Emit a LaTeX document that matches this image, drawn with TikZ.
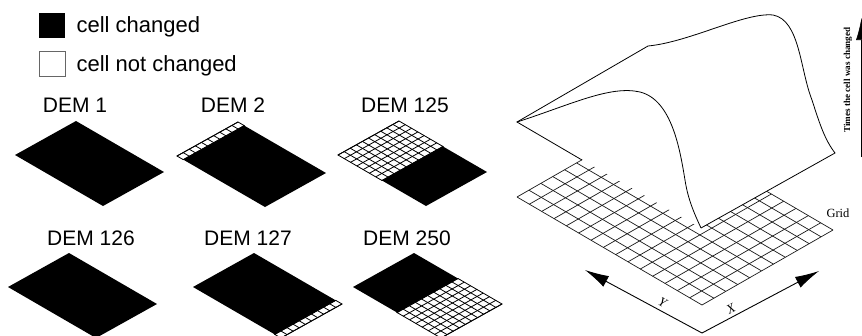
\documentclass[tikz,border=0pt]{standalone}
\usepackage{fontspec}
\setmainfont{Liberation Serif}
\setsansfont{Liberation Sans}
\usetikzlibrary{arrows.meta}

\tikzset{
  demlabel/.style={font=\sffamily\fontsize{21}{21}\selectfont, anchor=base},
  legendtext/.style={font=\sffamily\fontsize{22}{22}\selectfont, anchor=base west},
  keybox/.style={minimum width=26pt, minimum height=25pt, inner sep=0pt},
  cellline/.style={line width=0.8pt},
  gridline/.style={line width=0.7pt, black!90},
  surfline/.style={line width=0.8pt},
  axisarrow/.style={line width=0.9pt, -{Latex[length=24pt,width=12pt]}},
}

% one DEM tile: origin (left corner), first and last white row
\newcommand{\demtile}[3]{%
  \begin{scope}[shift={#1}, x={(6.1pt,3.4pt)}, y={(6.2857pt,-3.6429pt)}]
    \fill (0,0) -- (10,0) -- (10,14) -- (0,14) -- cycle;
    \ifnum#2<#3
      \filldraw[fill=white, cellline] (0,#2) -- (10,#2) -- (10,#3) -- (0,#3) -- cycle;
      \foreach \i in {1,...,9} \draw[cellline] (\i,#2) -- (\i,#3);
      \foreach \j in {#2,...,#3} \draw[cellline] (0,\j) -- (10,\j);
    \fi
  \end{scope}}

\begin{document}
\begin{tikzpicture}[x=1pt, y=-1pt]
  \useasboundingbox (0,0) rectangle (862,335);

  % Legend
  \node[keybox, fill=black] (keyon) at (52,25.5) {};
  \node[keybox, draw=black!60, fill=white] (keyoff) at (52,64) {};
  \node[legendtext] (keyontxt) at (73,32) {cell changed};
  \node[legendtext] (keyofftxt) at (73,71) {cell not changed};

  % DEM tiles
  \node[demlabel] (dem1) at (75,112) {DEM 1};
  \node[demlabel] (dem2) at (233,112) {DEM 2};
  \node[demlabel] (dem125) at (405,112) {DEM 125};
  \node[demlabel] (dem126) at (91,245) {DEM 126};
  \node[demlabel] (dem127) at (248,245) {DEM 127};
  \node[demlabel] (dem250) at (407,245) {DEM 250};

  \demtile{(15,155)}{0}{0}
  \demtile{(177,156)}{0}{1}
  \demtile{(338,155)}{0}{7}
  \demtile{(8,287)}{0}{0}
  \demtile{(193,287)}{13}{14}
  \demtile{(353,287)}{7}{14}

  % Grid under the surface
  \begin{scope}[shift={(517,197)}, x={(11.909pt,6.818pt)}, y={(12.333pt,-7.2pt)}]
    \foreach \i in {0,...,11} \draw[gridline] (\i,0) -- (\i,15);
    \foreach \j in {0,...,15} \draw[gridline] (0,\j) -- (11,\j);
  \end{scope}

  % Surface
  \coordinate (A) at (517,122);
  \coordinate (B) at (648,46);
  \coordinate (peak) at (773,15);
  \coordinate (bend) at (812,100);
  \coordinate (R) at (835,153);
  \coordinate (C) at (701,228);
  \coordinate (P) at (582,160);
  \fill[white] (A) -- (C) -- (R) .. controls (825,140) and (820,125) .. (bend)
    .. controls (800,70) and (800,20) .. (peak)
    .. controls (745,12) and (690,42) .. (B) -- cycle;
  \draw[surfline] (P) -- (A) -- (B) .. controls (690,42) and (745,12) .. (peak)
    .. controls (800,20) and (800,70) .. (bend)
    .. controls (820,125) and (825,140) .. (R) -- (C);
  \draw[surfline] (A) .. controls (570,105) and (610,85) .. (640,92)
    .. controls (672,100) and (680,150) .. (685,180)
    .. controls (688,200) and (695,215) .. (C);
  \node[font=\fontsize{12.5}{12.5}\selectfont] (gridlab) at (838,213) {Grid};

  % Axes
  \coordinate (O) at (702,333);
  \coordinate (ytip) at (585,270);
  \coordinate (xtip) at (819,271);
  \draw[axisarrow] (O) -- (ytip)
    node[pos=0.37, sloped, above, font=\itshape\fontsize{13}{13}\selectfont] (ylab) {Y};
  \draw[axisarrow] (O) -- (xtip)
    node[pos=0.28, sloped, above, font=\itshape\fontsize{13}{13}\selectfont] (xlab) {X};
  \coordinate (zbot) at (861.5,157);
  \coordinate (ztop) at (861.5,18);
  \draw[line width=0.6pt, -{Latex[length=22pt,width=11pt]}] (zbot) -- (ztop);
  \node[rotate=90, font=\bfseries\fontsize{9.1}{9.1}\selectfont] (zlab) at (848,80)
    {Times the cell was changed};
\end{tikzpicture}
\end{document}
